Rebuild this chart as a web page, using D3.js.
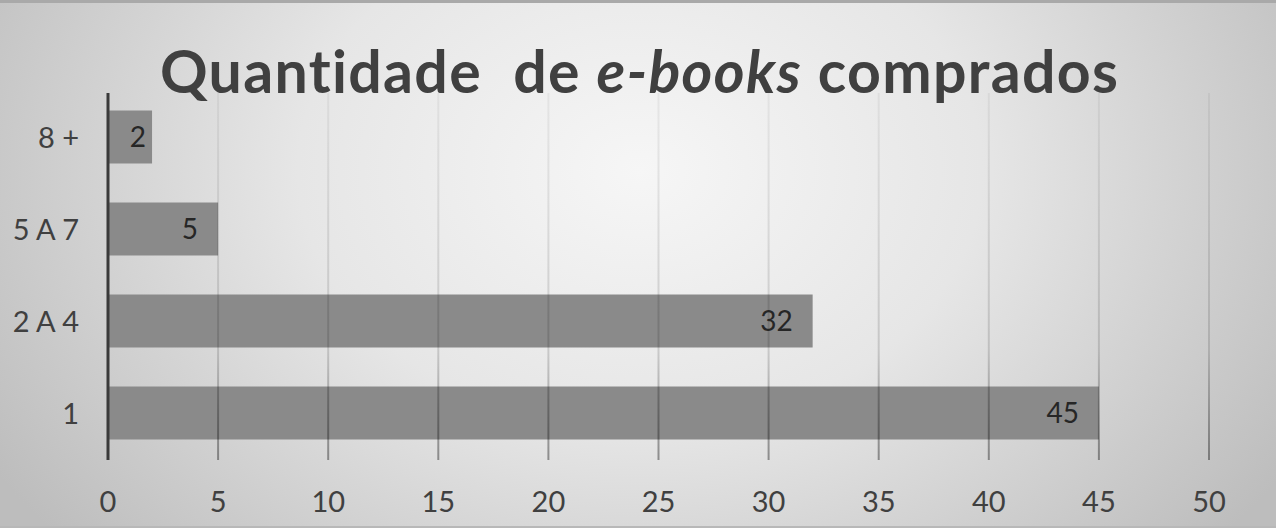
<!DOCTYPE html>
<meta charset="utf-8">
<style>
  body { margin: 0; background: #ffffff; }
  svg { display: block; }
  text { font-variant-ligatures: none; }
</style>
<body>
<script src="https://d3js.org/d3.v7.min.js"></script>
<script>
  // data
  var categories = ["8 +", "5 A 7", "2 A 4", "1"];
  var values = [2, 5, 32, 45];
  var xTicks = [0, 5, 10, 15, 20, 25, 30, 35, 40, 45, 50];

  var width = 1280, height = 532;
  var plotLeft = 108, plotRight = 1209;
  var plotTop = 93, plotBottom = 460;
  var textColor = "#404040";
  var fontFam = "Lato, 'Open Sans', sans-serif";

  var svg = d3.select("body").append("svg")
    .attr("width", width)
    .attr("height", height);

  var defs = svg.append("defs");

  // background gradient, lighter near the middle top
  var bg = defs.append("radialGradient")
    .attr("id", "bgGrad")
    .attr("gradientUnits", "userSpaceOnUse")
    .attr("cx", 640).attr("cy", 170)
    .attr("r", 760)
    .attr("gradientTransform", "translate(640,170) scale(1,0.75) translate(-640,-170)");
  bg.append("stop").attr("offset", "0%").attr("stop-color", "#f6f6f6");
  bg.append("stop").attr("offset", "45%").attr("stop-color", "#e6e6e6");
  bg.append("stop").attr("offset", "100%").attr("stop-color", "#bdbdbd");

  // gridlines fade towards the top
  var gg = defs.append("linearGradient")
    .attr("id", "gridGrad")
    .attr("gradientUnits", "userSpaceOnUse")
    .attr("x1", 0).attr("x2", 0)
    .attr("y1", plotTop).attr("y2", plotBottom);
  gg.append("stop").attr("offset", "0%").attr("stop-color", "#000").attr("stop-opacity", 0.05);
  gg.append("stop").attr("offset", "70%").attr("stop-color", "#000").attr("stop-opacity", 0.14);
  gg.append("stop").attr("offset", "100%").attr("stop-color", "#000").attr("stop-opacity", 0.38);

  svg.append("rect")
    .attr("x", 0).attr("y", 0)
    .attr("width", 1276).attr("height", 528)
    .attr("fill", "url(#bgGrad)");
  svg.append("rect")
    .attr("x", 0).attr("y", 0)
    .attr("width", 1276).attr("height", 3)
    .attr("fill", "#a9a9a9");
  svg.append("rect")
    .attr("x", 0).attr("y", 526)
    .attr("width", 1276).attr("height", 2)
    .attr("fill", "#b8b8b8");

  var x = d3.scaleLinear()
    .domain([0, 50])
    .range([plotLeft, plotRight]);

  var y = d3.scaleBand()
    .domain(categories)
    .range([91, 459])
    .paddingInner(0.424)
    .paddingOuter(0.212);

  // title
  var title = svg.append("text")
    .attr("x", 639)
    .attr("y", 93)
    .attr("text-anchor", "middle")
    .attr("font-family", fontFam)
    .attr("font-weight", "bold")
    .attr("font-size", "59px")
    .attr("fill", textColor)
    .attr("textLength", 958)
    .attr("lengthAdjust", "spacing");
  title.append("tspan").text("Quantidade\u00a0 de ");
  title.append("tspan").attr("font-style", "italic").text("e-books");
  title.append("tspan").text(" comprados");

  // bars
  svg.selectAll("rect.bar")
    .data(values)
    .enter()
    .append("rect")
    .attr("class", "bar")
    .attr("x", x(0))
    .attr("y", function(d, i) { return y(categories[i]); })
    .attr("width", function(d) { return x(d) - x(0); })
    .attr("height", y.bandwidth())
    .attr("fill", "#8a8a8a");

  // gridlines (drawn over the bars, semi transparent)
  svg.selectAll("line.grid")
    .data(xTicks.filter(function(d) { return d > 0; }))
    .enter()
    .append("line")
    .attr("class", "grid")
    .attr("x1", function(d) { return x(d); })
    .attr("x2", function(d) { return x(d); })
    .attr("y1", plotTop)
    .attr("y2", plotBottom)
    .attr("stroke", "url(#gridGrad)")
    .attr("stroke-width", 2);

  // y axis line
  svg.append("line")
    .attr("x1", x(0)).attr("x2", x(0))
    .attr("y1", plotTop).attr("y2", plotBottom)
    .attr("stroke", "#3a3a3a")
    .attr("stroke-width", 3);

  // value labels, inside end; short bars push the label to the right
  svg.selectAll("text.val")
    .data(values)
    .enter()
    .append("text")
    .attr("class", "val")
    .attr("x", function(d) { return Math.max(x(d) - 20, x(0) + 38); })
    .attr("y", function(d, i) { return y(categories[i]) + y.bandwidth() / 2 + 10; })
    .attr("text-anchor", "end")
    .attr("font-family", fontFam)
    .attr("font-size", "28px")
    .attr("fill", "#262626")
    .text(function(d) { return d; });

  // category labels
  svg.selectAll("text.cat")
    .data(categories)
    .enter()
    .append("text")
    .attr("class", "cat")
    .attr("x", 79)
    .attr("y", function(d) { return y(d) + y.bandwidth() / 2 + 11; })
    .attr("text-anchor", "end")
    .attr("font-family", fontFam)
    .attr("font-size", "29px")
    .attr("fill", textColor)
    .text(function(d) { return d; });

  // x tick labels
  svg.selectAll("text.tick")
    .data(xTicks)
    .enter()
    .append("text")
    .attr("class", "tick")
    .attr("x", function(d) { return x(d); })
    .attr("y", 512)
    .attr("text-anchor", "middle")
    .attr("font-family", fontFam)
    .attr("font-size", "29px")
    .attr("fill", textColor)
    .text(function(d) { return d; });
</script>
</body>
